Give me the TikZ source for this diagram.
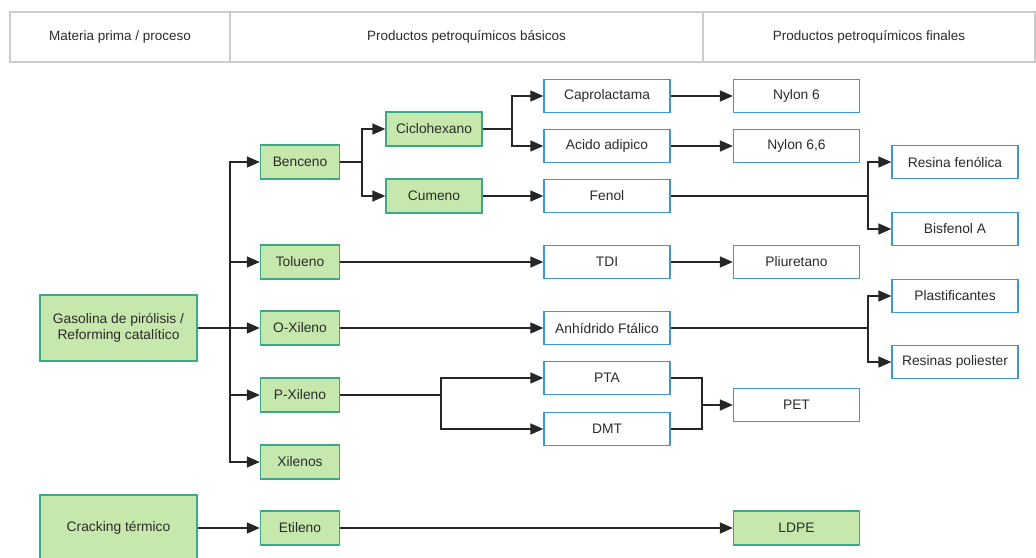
\documentclass[tikz,border=0pt]{standalone}
\usepackage{fontspec}
\setmainfont{Liberation Sans}
\usetikzlibrary{arrows.meta,positioning}
\definecolor{verde}{HTML}{C6E8AD}
\definecolor{verdeb}{HTML}{3DA889}
\definecolor{azul}{HTML}{3D97D3}
\definecolor{gris}{HTML}{CCCCCC}
\definecolor{tinta}{HTML}{2B2B2B}

\begin{document}
\begin{tikzpicture}[x=1pt, y=-1pt,
  base/.style={draw, line width=1.3pt, inner sep=0pt, align=center,
    font=\fontsize{13.8}{16}\selectfont, text=tinta},
  basico/.style={base, draw=verdeb, fill=verde, minimum width=79, minimum height=34},
  medio/.style={basico, minimum width=96},
  final/.style={base, draw=azul, fill=white, minimum width=126, minimum height=33},
  materia/.style={base, draw=verdeb, fill=verde, minimum width=157, minimum height=66},
  hdr/.style={draw=gris, line width=1.2pt, minimum height=50, inner sep=0pt,
    font=\fontsize{13.5}{16}\selectfont, text=tinta},
  linea/.style={draw=black!85, line width=1.4pt},
  flecha/.style={linea, -{Triangle[length=13,width=11]}}]

 \useasboundingbox (0,0) rectangle (1036,557);

 %header
 \node[hdr, minimum width=220] (h1) at (120,37) {Materia prima / proceso};
 \node[hdr, minimum width=473] (h2) at (466.5,37) {Productos petroquímicos básicos};
 \node[hdr, minimum width=332] (h3) at (869,37) {Productos petroquímicos finales};

 %materia prima
 \node[materia] (Gasolina) at (118.5,328) {Gasolina de pirólisis /\\Reforming catalítico};
 \node[materia] (Cracking) at (118.5,528) {Cracking térmico};

 %basicos
 \foreach \n/\t/\y in {Benceno/Benceno/162, Tolueno/Tolueno/262, OXileno/O-Xileno/328,
                       PXileno/P-Xileno/395, Xilenos/Xilenos/462, Etileno/Etileno/528} {
   \node[basico] (\n) at (300,\y) {\t};
 }
 \node[medio] (Ciclohexano) at (434,129) {Ciclohexano};
 \node[medio] (Cumeno) at (434,196) {Cumeno};

 \foreach \n/\t/\y in {Caprolactama/Caprolactama/96, Acido/Acido adipico/146, Fenol/Fenol/196,
                       TDI/TDI/262, Anhidrido/Anhídrido Ftálico/328, PTA/PTA/378, DMT/DMT/429} {
   \node[final] (\n) at (607,\y) {\t};
 }

 %finales
 \foreach \n/\t/\y in {NylonA/Nylon 6/96, NylonB/{Nylon 6,6}/146, Pliuretano/Pliuretano/262, PET/PET/405} {
   \node[final] (\n) at (796.5,\y) {\t};
 }
 \node[basico, minimum width=126] (LDPE) at (796.5,528) {LDPE};

 \foreach \n/\t/\y in {Resina/Resina fenólica/162, Bisfenol/Bisfenol A/229,
                       Plastif/Plastificantes/296, Poliester/Resinas poliester/362} {
   \node[final] (\n) at (955,\y) {\t};
 }

 %junctions
 \coordinate (jG) at (230,328);
 \coordinate (jB) at (362,162);
 \coordinate (jC) at (512,129);
 \coordinate (jP) at (441,395);
 \coordinate (jD) at (702,405);
 \coordinate (jF) at (868,196);
 \coordinate (jA) at (868,328);

 %arrows
 \draw[linea] (Gasolina.east) -- (jG);
 \foreach \t in {Benceno,Tolueno,OXileno,PXileno,Xilenos}
   \draw[flecha] (jG) |- (\t.west);

 \draw[linea] (Benceno.east) -- (jB);
 \foreach \t in {Ciclohexano,Cumeno}
   \draw[flecha] (jB) |- (\t.west);

 \draw[linea] (Ciclohexano.east) -- (jC);
 \foreach \t in {Caprolactama,Acido}
   \draw[flecha] (jC) |- (\t.west);

 \draw[linea] (PXileno.east) -- (jP);
 \foreach \t in {PTA,DMT}
   \draw[flecha] (jP) |- (\t.west);

 \foreach \t in {PTA,DMT}
   \draw[linea] (\t.east) -| (jD);
 \draw[flecha] (jD) -- (PET.west);

 \draw[linea] (Fenol.east) -- (jF);
 \foreach \t in {Resina,Bisfenol}
   \draw[flecha] (jF) |- (\t.west);

 \draw[linea] (Anhidrido.east) -- (jA);
 \foreach \t in {Plastif,Poliester}
   \draw[flecha] (jA) |- (\t.west);

 \foreach \a/\b in {Cumeno/Fenol, Caprolactama/NylonA, Acido/NylonB, Tolueno/TDI,
                    TDI/Pliuretano, OXileno/Anhidrido, Cracking/Etileno, Etileno/LDPE}
   \draw[flecha] (\a.east) -- (\b.west);

\end{tikzpicture}
\end{document}
